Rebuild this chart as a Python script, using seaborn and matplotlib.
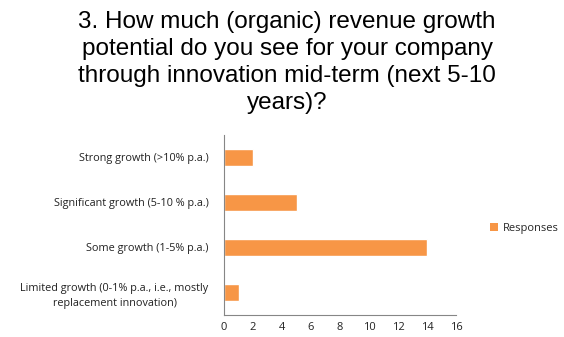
import matplotlib
matplotlib.use("Agg")
import matplotlib.pyplot as plt
import seaborn as sns
import pandas as pd
import numpy as np
from matplotlib.patches import Patch

categories = [
    "Strong growth (>10% p.a.)",
    "Significant growth (5-10 % p.a.)",
    "Some growth (1-5% p.a.)",
    "Limited growth (0-1% p.a., i.e., mostly\nreplacement innovation)",
]
responses = [2, 5, 14, 1]
xticks = [0, 2, 4, 6, 8, 10, 12, 14, 16]
title = "3. How much (organic) revenue growth\npotential do you see for your company\nthrough innovation mid-term (next 5-10\nyears)?"

sns.set_style("white")
plt.rcParams['font.family'] = ['Open Sans', 'DejaVu Sans']

df = pd.DataFrame({"Category": categories, "Responses": responses})

fig = plt.figure(figsize=(5.64, 3.37), dpi=100)
ax = fig.add_axes([224/564, 1-315/337, (456-224)/564, (315-135)/337])
color = "#F79646"
sns.barplot(data=df, y="Category", x="Responses", color=color, width=0.38,
            saturation=1, ax=ax, orient="h")

ax.set_xlim(0, 16)
ax.set_xticks(xticks)
ax.set_xticklabels([str(t) for t in xticks], fontsize=8, color="#222222")
ax.set_ylim(len(categories) - 0.5, -0.5)
ax.set_yticks(range(len(categories)))
ax.set_yticklabels(categories, fontsize=7.8, color="#222222", linespacing=1.45,
                   multialignment="center")
ax.set_yticks(np.arange(-0.5, len(categories), 1), minor=True)
ax.tick_params(axis="y", which="major", length=0, pad=11)
ax.tick_params(axis="y", which="minor", length=4, color="#868686", width=0.8)
ax.tick_params(axis="x", length=4, color="#868686", width=0.8, direction="inout", pad=3)
ax.set_xlabel("")
ax.set_ylabel("")
for s in ["top", "right"]:
    ax.spines[s].set_visible(False)
for s in ["left", "bottom"]:
    ax.spines[s].set_color("#868686")
    ax.spines[s].set_linewidth(0.8)

fig.text(287/564, 1-11/337, title, ha="center", va="top", fontsize=17.5,
         family=["Liberation Sans", "DejaVu Sans"], linespacing=1.3, color="#000000")

fig.legend(handles=[Patch(facecolor=color, edgecolor="none", label="Responses")],
           loc="center left", bbox_to_anchor=(480/564, 1-228/337), frameon=False,
           fontsize=8, handlelength=0.7, handleheight=0.7, handletextpad=0.5)

fig.savefig("out.png", dpi=100)
